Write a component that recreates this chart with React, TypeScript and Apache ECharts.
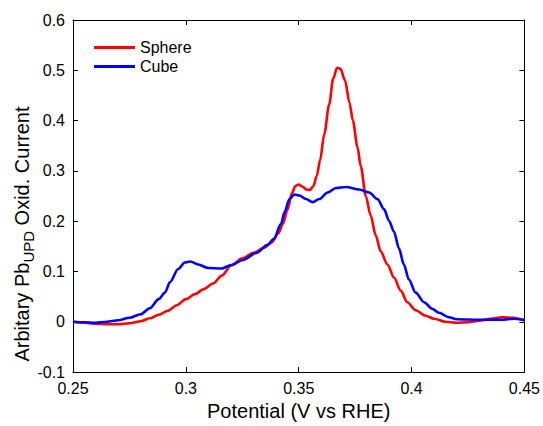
import React, { useEffect, useRef } from "react";
import * as echarts from "echarts";

const sphereX = [0.25, 0.255, 0.26, 0.265, 0.27, 0.275, 0.28, 0.284, 0.288, 0.292, 0.296, 0.3, 0.304, 0.308, 0.312, 0.316, 0.32, 0.325, 0.33, 0.335, 0.338, 0.341, 0.343, 0.345, 0.347, 0.3485, 0.35, 0.3515, 0.3535, 0.355, 0.3565, 0.358, 0.3595, 0.3613, 0.3635, 0.3653, 0.367, 0.3685, 0.3705, 0.3725, 0.374, 0.376, 0.3775, 0.3797, 0.3819, 0.3841, 0.3863, 0.3893, 0.3922, 0.3952, 0.3981, 0.4018, 0.4062, 0.41, 0.415, 0.42, 0.425, 0.43, 0.435, 0.44, 0.445, 0.45];
const sphereY = [0, -0.002, -0.004, -0.005, -0.005, -0.003, 0.001, 0.007, 0.014, 0.022, 0.033, 0.045, 0.055, 0.065, 0.076, 0.092, 0.112, 0.126, 0.137, 0.148, 0.158, 0.176, 0.195, 0.222, 0.256, 0.27, 0.273, 0.269, 0.263, 0.262, 0.27, 0.29, 0.322, 0.373, 0.432, 0.484, 0.505, 0.503, 0.48, 0.435, 0.4, 0.348, 0.309, 0.25, 0.211, 0.172, 0.14, 0.114, 0.088, 0.062, 0.039, 0.023, 0.012, 0.006, 0.0, -0.002, -0.001, 0.002, 0.006, 0.009, 0.008, 0.003];

const cubeX = [0.25, 0.255, 0.26, 0.265, 0.27, 0.275, 0.28, 0.284, 0.288, 0.2907, 0.293, 0.2966, 0.2995, 0.302, 0.3054, 0.31, 0.3157, 0.3202, 0.3253, 0.3312, 0.3363, 0.339, 0.3422, 0.3437, 0.3459, 0.3481, 0.3503, 0.3532, 0.3562, 0.3591, 0.3628, 0.3665, 0.371, 0.3768, 0.3812, 0.3849, 0.3878, 0.39, 0.3922, 0.3944, 0.3966, 0.3988, 0.4018, 0.4055, 0.4091, 0.4121, 0.4165, 0.42, 0.43, 0.44, 0.445, 0.45];
const cubeY = [0, -0.001, -0.002, 0.0, 0.003, 0.008, 0.015, 0.027, 0.045, 0.058, 0.079, 0.105, 0.118, 0.12, 0.114, 0.107, 0.106, 0.113, 0.123, 0.137, 0.153, 0.165, 0.195, 0.218, 0.244, 0.253, 0.251, 0.244, 0.238, 0.244, 0.257, 0.266, 0.268, 0.263, 0.257, 0.244, 0.224, 0.201, 0.179, 0.146, 0.114, 0.084, 0.058, 0.039, 0.026, 0.018, 0.009, 0.005, 0.004, 0.004, 0.006, 0.003];

const seriesNames = ["Sphere", "Cube"];
const xAxisTitle = "Potential (V vs RHE)";

const FONT = "Liberation Sans, Arial, Helvetica, sans-serif";

export default function App() {
  const ref = useRef<HTMLDivElement>(null);
  useEffect(() => {
    if (!ref.current) return;
    const chart = echarts.init(ref.current, null, { renderer: "svg" });
    const zip = (xs: number[], ys: number[]) => xs.map((x, i) => [x, ys[i]]);
    const axisLine = { show: true, onZero: false, lineStyle: { color: "#000", width: 1 } };
    const tick = { show: true, inside: true, length: 5, lineStyle: { color: "#000" } };
    chart.setOption({
      animation: false,
      backgroundColor: "#fff",
      textStyle: { fontFamily: FONT },
      grid: { left: 73, right: 17, top: 20, bottom: 47, containLabel: false },
      legend: {
        orient: "vertical",
        left: 89,
        top: 33,
        icon: "rect",
        itemWidth: 41,
        itemHeight: 3,
        itemGap: 0,
        textStyle: { fontFamily: FONT, fontSize: 16, color: "#000", lineHeight: 19 },
        data: seriesNames,
      },
      xAxis: [
        {
          type: "value",
          min: 0.25,
          max: 0.45,
          interval: 0.05,
          position: "bottom",
          axisLine,
          axisTick: tick,
          splitLine: { show: false },
          axisLabel: { color: "#000", fontSize: 16, fontFamily: FONT, margin: 8 },
          name: xAxisTitle,
          nameLocation: "middle",
          nameGap: 25,
          nameTextStyle: { color: "#000", fontSize: 20, fontFamily: FONT },
        },
        {
          type: "value",
          min: 0.25,
          max: 0.45,
          interval: 0.05,
          position: "top",
          axisLine,
          axisTick: tick,
          splitLine: { show: false },
          axisLabel: { show: false },
        },
      ],
      yAxis: [
        {
          type: "value",
          min: -0.1,
          max: 0.6,
          interval: 0.1,
          position: "left",
          axisLine,
          axisTick: tick,
          splitLine: { show: false },
          axisLabel: { color: "#000", fontSize: 16, fontFamily: FONT, margin: 8 },
        },
        {
          type: "value",
          min: -0.1,
          max: 0.6,
          interval: 0.1,
          position: "right",
          axisLine,
          axisTick: tick,
          splitLine: { show: false },
          axisLabel: { show: false },
        },
      ],
      graphic: [
        {
          type: "text",
          x: 22,
          y: 234,
          rotation: Math.PI / 2,
          style: {
            text: "Arbitary Pb{sub|UPD} Oxid. Current",
            fill: "#000",
            fontSize: 20,
            fontFamily: FONT,
            align: "center",
            verticalAlign: "middle",
            rich: {
              sub: { fontSize: 15, fontFamily: FONT, fill: "#000", padding: [12, 0, 0, 0], verticalAlign: "bottom" },
            },
          },
        },
      ],
      series: [
        {
          name: seriesNames[0],
          type: "line",
          data: zip(sphereX, sphereY),
          showSymbol: false,
          symbol: "none",
          smooth: 0.3,
          smoothMonotone: "x",
          lineStyle: { color: "#ff0000", width: 2.6 },
          itemStyle: { color: "#ff0000" },
          z: 3,
        },
        {
          name: seriesNames[1],
          type: "line",
          data: zip(cubeX, cubeY),
          showSymbol: false,
          symbol: "none",
          smooth: 0.3,
          smoothMonotone: "x",
          lineStyle: { color: "#0000ff", width: 2.6 },
          itemStyle: { color: "#0000ff" },
          z: 4,
        },
      ],
    });
    return () => chart.dispose();
  }, []);
  return <div ref={ref} style={{ position: "fixed", left: 0, top: 0, width: 543, height: 426 }} />;
}
